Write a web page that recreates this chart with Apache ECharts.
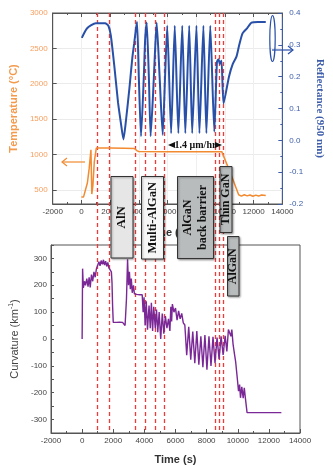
<!DOCTYPE html>
<html>
<head>
<meta charset="utf-8">
<script src="https://cdn.jsdelivr.net/npm/echarts@6/dist/echarts.min.js"></script>
<style>
html, body { margin: 0; padding: 0; background: #fff; }
#chart { width: 333px; height: 466px; }
</style>
</head>
<body>
<div id="chart"></div>
<script>
// layer boundaries (s), drawn as red dashed lines through both panels
const dashTimes = [1100, 1890, 3715, 4410, 5100, 5770, 9300, 9610, 9865]
const tempLabels = [500, 1000, 1500, 2000, 2500, 3000]

// growth temperature (°C)
const tempTime = [0, 150, 270, 420, 540, 665, 700, 725, 800, 900, 1040, 2000, 3000, 3700, 3850, 4000, 6000, 8000, 9500, 9780, 10400, 10957, 11150, 11350, 11550, 11750, 11950, 12150, 12350, 12550, 12847]
const tempVal = [400, 400, 410, 600, 800, 1065, 700, 440, 560, 900, 1090, 1090, 1088, 1085, 1055, 1042, 1040, 1040, 1040, 1040, 730, 430, 412, 430, 415, 428, 410, 425, 412, 428, 420]

// reflectance at 950 nm
const reflTime = [30, 400, 1000, 1650, 1880, 2050, 2300, 2550, 2750, 2930, 3100, 3355, 3550, 3680, 3800, 3880, 4000, 4155, 4350, 4440, 4550, 4700, 4825, 5000, 5120, 5245, 5450, 5665, 5830, 5981, 6252, 6504, 6756, 7027, 7241, 7512, 7720, 8016, 8224, 8501, 8709, 8980, 9260, 9446, 9550, 9650, 9761, 9906, 10283, 10550, 10806, 11000, 11228, 11543, 11858, 12300, 12847]
const reflVal = [0.322, 0.352, 0.368, 0.368, 0.360, 0.330, 0.231, 0.120, 0.055, 0.003, 0.060, 0.168, 0.260, 0.305, 0.350, 0.372, 0.200, 0.013, 0.200, 0.315, 0.370, 0.200, 0.013, 0.150, 0.270, 0.370, 0.200, 0.017, 0.200, 0.360, 0.022, 0.360, 0.022, 0.360, 0.022, 0.360, 0.022, 0.360, 0.022, 0.360, 0.022, 0.360, 0.027, 0.247, 0.255, 0.240, 0.250, 0.116, 0.200, 0.240, 0.263, 0.300, 0.336, 0.352, 0.370, 0.372, 0.372]

// wafer curvature (km^-1)
const curvTime = [
  0, 30, 80, 150, 220, 300, 380, 450, 520, 600,
  680, 760, 840, 920, 1000, 1080, 1150, 1220, 1300, 1370,
  1440, 1510, 1580, 1650, 1720, 1800, 1880, 1920, 1960, 2000,
  2200, 2400, 2600, 2720, 2760, 2850, 2920, 2980, 3040, 3100,
  3160, 3220, 3300, 3360, 3500, 3700, 3860, 3920, 3980, 4050,
  4120, 4200, 4300, 4380, 4450, 4530, 4600, 4700, 4780, 4860,
  4950, 5050, 5150, 5250, 5350, 5450, 5550, 5640, 5700, 5750,
  5800, 5900, 6000, 6100, 6200, 6300, 6400, 6500, 6600, 6720,
  6850, 6980, 7110, 7240, 7370, 7500, 7630, 7760, 7890, 8020,
  8150, 8280, 8410, 8540, 8670, 8800, 8930, 9060, 9190, 9300,
  9400, 9500, 9560, 9620, 9700, 9800, 9862, 9968, 10050, 10120,
  10177, 10260, 10350, 10420, 10500, 10598, 12803
]
const curvVal = [
  0, 262, 190, 215, 200, 225, 195, 230, 192, 240,
  215, 250, 230, 262, 275, 288, 272, 292, 278, 295,
  275, 290, 270, 285, 265, 262, 250, 210, 120, 62,
  62, 63, 62, 58, 50, 150, 297, 200, 250, 185,
  225, 172, 200, 168, 166, 165, 165, 100, 155, 50,
  140, 35, 125, 40, 135, 30, 120, 40, 110, 25,
  100, 0, 95, 20, 85, 40, 75, 30, 120, 65,
  130, 100, 115, 70, 105, 75, 95, 60, 52, -60,
  45, -77, 28, -90, 30, -96, 10, -105, 15, -114,
  10, -100, 8, -90, 5, -75, 10, -59, 12, -46,
  35, 42, 10, 35, -20, -60, -83, -145, -194, -170,
  -219, -178, -220, -182, -225, -274, -274
]

const zip = (a, b) => a.map((v, i) => [v, b[i]])

const labelFont = { color: '#444', fontSize: 8, fontFamily: 'Liberation Sans' }
const darkLine = { color: '#555', width: 1 }
const orange = '#f28a30'
const blue = '#2850a8'
const purple = '#7a2896'

const chart = echarts.init(document.getElementById('chart'), null, { renderer: 'canvas' })

const timeAxis = (grid, extra) => Object.assign({
  gridIndex: grid,
  type: 'value',
  min: -2000,
  max: 14000,
  interval: 2000,
  axisLine: { onZero: false, lineStyle: darkLine },
  axisTick: { inside: true, length: 4, lineStyle: darkLine },
  minorTick: { show: true, splitNumber: 2, length: 2, lineStyle: darkLine },
  axisLabel: Object.assign({ margin: 4, formatter: v => String(v) }, labelFont),
  splitLine: { show: false },
  name: 'Time (s)',
  nameLocation: 'middle',
  nameTextStyle: { color: '#333', fontSize: 11, fontWeight: 'bold', fontFamily: 'Liberation Sans' }
}, extra)

chart.setOption({
  animation: false,
  backgroundColor: '#fff',
  grid: [
    { left: 45, right: 34, top: 13, bottom: 262, show: true, borderColor: '#555', borderWidth: 1 },
    { left: 45, right: 33, top: 245, bottom: 31, show: true, borderColor: '#555', borderWidth: 1 }
  ],
  xAxis: [
    timeAxis(0, { nameGap: 23, splitLine: { show: true, lineStyle: { color: '#efefef' } } }),
    timeAxis(1, { nameGap: 21 }),
    timeAxis(0, { position: 'top', name: '', axisLabel: { show: false } })
  ],
  yAxis: [
    {
      gridIndex: 0,
      type: 'value',
      position: 'left',
      min: 300,
      max: 3000,
      axisLine: { show: true, onZero: false, lineStyle: darkLine },
      axisTick: { inside: true, length: 4, customValues: tempLabels, lineStyle: darkLine },
      axisLabel: { customValues: tempLabels, color: '#f5a060', fontSize: 8, fontFamily: 'Liberation Sans', margin: 5, formatter: v => String(v) },
      splitLine: { show: true, lineStyle: { color: '#ebebeb' } },
      name: 'Temperature (°C)',
      nameLocation: 'middle',
      nameGap: 28,
      nameTextStyle: { color: '#f39a4c', fontSize: 11, fontWeight: 'bold', fontFamily: 'Liberation Sans' }
    },
    {
      gridIndex: 0,
      type: 'value',
      position: 'right',
      min: -0.2,
      max: 0.4,
      interval: 0.1,
      axisLine: { show: true, onZero: false, lineStyle: { color: '#3d5dab', width: 1 } },
      axisTick: { inside: true, length: 4, lineStyle: { color: '#3d5dab' } },
      minorTick: { show: true, splitNumber: 2, length: 2, lineStyle: { color: '#3d5dab' } },
      axisLabel: { color: '#3d5dab', fontSize: 8, fontFamily: 'Liberation Sans', margin: 7, formatter: v => v.toFixed(1) },
      splitLine: { show: false },
      name: 'Reflectance (950 nm)',
      nameLocation: 'middle',
      nameRotate: -90,
      nameGap: 26,
      nameTextStyle: { color: '#3d5dab', fontSize: 11, fontWeight: 'bold', fontFamily: 'Liberation Serif' }
    },
    {
      gridIndex: 1,
      type: 'value',
      min: -350,
      max: 350,
      interval: 50,
      axisLine: { show: true, onZero: false, lineStyle: darkLine },
      axisTick: { inside: true, length: 3, lineStyle: darkLine },
      axisLabel: Object.assign({ margin: 4, formatter: v => (v % 100 === 0 ? String(v) : '') }, labelFont),
      splitLine: { show: false },
      name: 'Curvature (km{sup|-1})',
      nameLocation: 'middle',
      nameGap: 30,
      nameTextStyle: {
        color: '#444', fontSize: 11, fontFamily: 'Liberation Sans',
        rich: { sup: { color: '#444', fontSize: 7, fontFamily: 'Liberation Sans', padding: [0, 0, 6, 0] } }
      }
    }
  ],
  series: [
    {
      name: 'Temperature', type: 'line', xAxisIndex: 0, yAxisIndex: 0,
      data: zip(tempTime, tempVal), showSymbol: false,
      lineStyle: { color: orange, width: 1.5 }
    },
    {
      name: 'Reflectance', type: 'line', xAxisIndex: 0, yAxisIndex: 1,
      data: zip(reflTime, reflVal), showSymbol: false, smooth: 0.2,
      lineStyle: { color: blue, width: 2 }
    },
    {
      name: 'Curvature', type: 'line', xAxisIndex: 1, yAxisIndex: 2,
      data: zip(curvTime, curvVal), showSymbol: false,
      lineStyle: { color: purple, width: 1.4 }
    }
  ]
})

// annotations: dashed boundaries, layer boxes, arrows
const yTop = chart.convertToPixel({ yAxisIndex: 1 }, 0.4)
const yBot = chart.convertToPixel({ yAxisIndex: 2 }, -350)
const dashes = dashTimes.map(t => {
  const x = Math.round(chart.convertToPixel({ xAxisIndex: 0 }, t)) + 0.5
  return {
    type: 'line', z: 1, silent: true,
    shape: { x1: x, y1: yTop, x2: x, y2: yBot },
    style: { stroke: '#f03a3a', lineWidth: 1.3, lineDash: [4, 3] }
  }
})

const serif = 'Liberation Serif'
function layerBox(x, y, w, h, fill, text, size) {
  return {
    type: 'group', z: 100,
    children: [
      { type: 'rect', z: 100, shape: { x: x, y: y, width: w, height: h },
        style: { fill: fill, stroke: '#333', lineWidth: 1, shadowBlur: 2, shadowColor: 'rgba(0,0,0,0.35)', shadowOffsetX: 1, shadowOffsetY: 1 } },
      { type: 'text', z: 101, x: x + w / 2, y: y + h / 2, rotation: Math.PI / 2,
        style: { text: text, fill: '#111', font: 'bold ' + size + 'px ' + serif, align: 'center', verticalAlign: 'middle', lineHeight: 15 } }
    ]
  }
}

const boxes = [
  layerBox(111, 176.5, 22, 81.5, '#e6e6e6', 'AlN', 13),
  layerBox(141.5, 176.5, 22, 82.5, '#f7f7f7', 'Multi-AlGaN', 12.5),
  layerBox(177.5, 176.5, 36, 82, '#b9bcbd', 'AlGaN\nback barrier', 12),
  layerBox(220, 166.5, 12, 66, '#b9bcbd', 'Thin GaN', 12),
  layerBox(227.5, 236.5, 11.5, 59.5, '#b9bcbd', 'AlGaN', 12)
]

const arrows = [
  // temperature -> left axis
  { type: 'polyline', z: 50, shape: { points: [[85, 162], [62, 162]] }, style: { stroke: orange, lineWidth: 1.2, fill: null } },
  { type: 'polyline', z: 50, shape: { points: [[67, 158], [62, 162], [67, 166]] }, style: { stroke: orange, lineWidth: 1.2, fill: null } },
  // reflectance -> right axis
  { type: 'ellipse', z: 50, shape: { cx: 272.5, cy: 38.5, rx: 2.7, ry: 23 }, style: { stroke: blue, lineWidth: 1.2, fill: null } },
  { type: 'polyline', z: 50, shape: { points: [[272, 50], [293, 50]] }, style: { stroke: blue, lineWidth: 1.2, fill: null } },
  { type: 'polyline', z: 50, shape: { points: [[288, 46], [293, 50], [288, 54]] }, style: { stroke: blue, lineWidth: 1.2, fill: null } },
  // growth-rate marker
  { type: 'polygon', z: 50, shape: { points: [[168, 145], [175, 142], [175, 148]] }, style: { fill: '#111' } },
  { type: 'polygon', z: 50, shape: { points: [[222, 145], [215, 142], [215, 148]] }, style: { fill: '#111' } },
  { type: 'text', z: 50, x: 195.5, y: 145.5,
    style: { text: '1.4 μm/hr', fill: '#111', font: 'bold 10px ' + serif, align: 'center', verticalAlign: 'middle' } }
]

chart.setOption({ graphic: dashes.concat(arrows, boxes) })
</script>
</body>
</html>
